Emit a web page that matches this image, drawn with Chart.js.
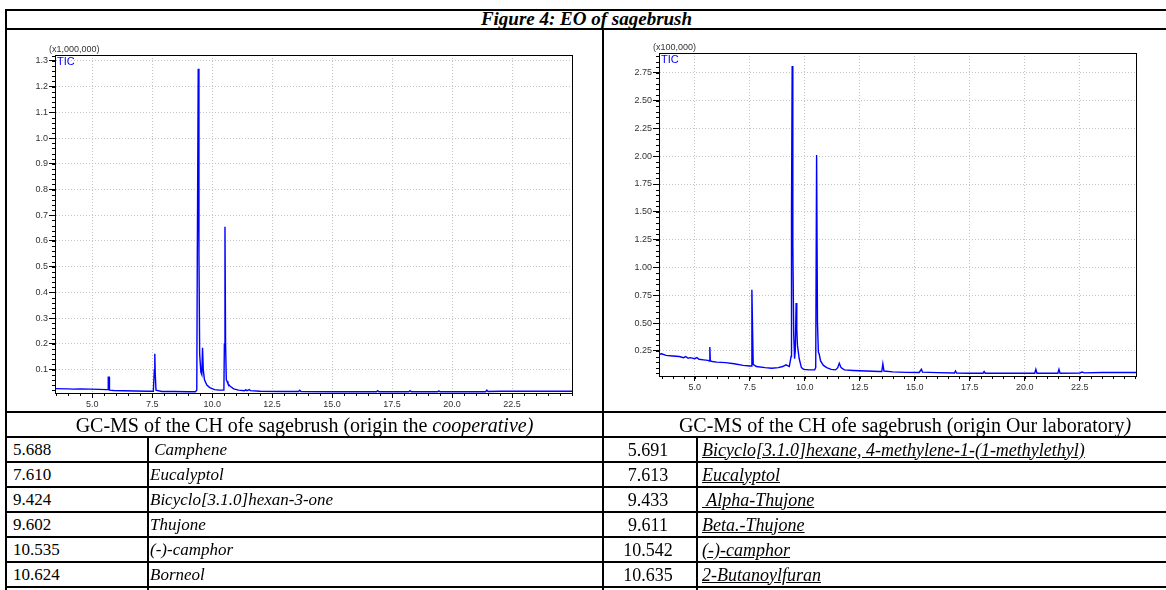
<!DOCTYPE html>
<html>
<head>
<meta charset="utf-8">
<script src="https://cdn.jsdelivr.net/npm/chart.js@4.4.0/dist/chart.umd.min.js"></script>
<style>
  body { margin: 0; width: 1166px; height: 590px; overflow: hidden; background: #fff; position: relative;
         font-family: "Liberation Serif", "Times New Roman", serif; color: #000; }
  .h { position: absolute; background: #000; height: 2px; }
  .v { position: absolute; background: #000; width: 2px; }
  .cell { position: absolute; display: flex; align-items: center; white-space: pre; line-height: 1; }
  canvas { position: absolute; top: 0; }
</style>
</head>
<body>
<div class="cell" style="left:7px;top:10px;width:1159px;height:17px;justify-content:center;font-weight:bold;font-style:italic;font-size:19px;">Figure 4: EO of sagebrush</div>
<canvas id="gc1" width="602" height="412" style="left:0"></canvas>
<canvas id="gc2" width="562" height="412" style="left:604px"></canvas>
<div id="tbl"></div>

<script>
// chromatogram 1 : cooperative sample (intensity x1,000,000)
const coopTime = [3.45, 4.0, 4.2, 4.5, 4.9, 5.3, 5.6, 5.66, 5.67, 5.71, 5.72, 5.9, 6.3, 6.8, 7.3, 7.55, 7.59, 7.61, 7.63, 7.66, 7.9, 8.4, 9.0, 9.3, 9.36, 9.38, 9.42, 9.45, 9.48, 9.53, 9.57, 9.6, 9.63, 9.68, 9.78, 9.9, 10.1, 10.3, 10.49, 10.51, 10.535, 10.56, 10.59, 10.62, 10.66, 10.75, 10.9, 11.1, 11.35, 11.4, 11.45, 11.55, 11.6, 12.0, 13.0, 13.6, 13.65, 13.7, 15.0, 16.85, 16.9, 16.95, 18.2, 18.25, 18.3, 19.4, 19.45, 19.5, 21.4, 21.45, 21.5, 22.0, 23.0, 25.0];
const coopTic  = [0.026, 0.025, 0.024, 0.025, 0.024, 0.023, 0.022, 0.022, 0.07, 0.07, 0.02, 0.019, 0.018, 0.017, 0.016, 0.016, 0.1, 0.162, 0.08, 0.02, 0.015, 0.015, 0.014, 0.014, 0.02, 0.5, 1.27, 0.55, 0.16, 0.09, 0.08, 0.185, 0.1, 0.06, 0.04, 0.03, 0.022, 0.02, 0.02, 0.2, 0.655, 0.2, 0.06, 0.055, 0.045, 0.035, 0.025, 0.02, 0.018, 0.022, 0.018, 0.022, 0.018, 0.016, 0.015, 0.015, 0.02, 0.015, 0.014, 0.014, 0.018, 0.014, 0.014, 0.018, 0.014, 0.014, 0.017, 0.014, 0.014, 0.02, 0.015, 0.016, 0.016, 0.016];

// chromatogram 2 : our laboratory sample (intensity x100,000)
const labTime = [3.4, 3.5, 3.7, 4.0, 4.3, 4.5, 4.6, 4.7, 4.8, 5.0, 5.1, 5.2, 5.4, 5.6, 5.67, 5.69, 5.71, 5.8, 6.0, 6.4, 6.8, 7.2, 7.5, 7.57, 7.6, 7.63, 7.66, 7.8, 8.2, 8.5, 8.8, 9.0, 9.15, 9.3, 9.38, 9.4, 9.43, 9.46, 9.5, 9.54, 9.57, 9.61, 9.64, 9.67, 9.75, 9.85, 9.95, 10.2, 10.45, 10.5, 10.54, 10.58, 10.62, 10.66, 10.72, 10.85, 11.0, 11.2, 11.4, 11.5, 11.57, 11.65, 11.8, 12.2, 12.8, 13.4, 13.5, 13.55, 13.6, 14.0, 14.6, 15.2, 15.3, 15.35, 16.0, 16.8, 16.85, 16.9, 17.5, 18.1, 18.15, 18.2, 19.0, 20.0, 20.45, 20.5, 20.55, 21.5, 21.55, 21.6, 22.5, 22.6, 22.7, 23.5, 24.5, 25.05];
const labTic  = [0.22, 0.225, 0.21, 0.205, 0.2, 0.19, 0.2, 0.185, 0.19, 0.18, 0.19, 0.175, 0.17, 0.165, 0.16, 0.286, 0.16, 0.155, 0.15, 0.145, 0.135, 0.12, 0.115, 0.115, 0.8, 0.45, 0.13, 0.11, 0.1, 0.095, 0.1, 0.11, 0.125, 0.11, 0.2, 1.5, 2.81, 1.2, 0.4, 0.18, 0.25, 0.68, 0.45, 0.3, 0.18, 0.1, 0.085, 0.08, 0.08, 0.1, 2.01, 0.5, 0.24, 0.22, 0.16, 0.12, 0.1, 0.085, 0.08, 0.1, 0.14, 0.1, 0.08, 0.075, 0.07, 0.065, 0.065, 0.135, 0.07, 0.062, 0.058, 0.057, 0.085, 0.06, 0.055, 0.052, 0.07, 0.052, 0.05, 0.05, 0.065, 0.05, 0.05, 0.05, 0.05, 0.085, 0.05, 0.05, 0.085, 0.05, 0.052, 0.06, 0.053, 0.057, 0.057, 0.057];

const timeTicks = [5.0, 7.5, 10.0, 12.5, 15.0, 17.5, 20.0, 22.5];
const coopTicks = [0.1, 0.2, 0.3, 0.4, 0.5, 0.6, 0.7, 0.8, 0.9, 1.0, 1.1, 1.2, 1.3];
const labTicks  = [0.25, 0.5, 0.75, 1.0, 1.25, 1.5, 1.75, 2.0, 2.25, 2.5, 2.75];

// identified compounds
const coopRT    = ["5.688", "7.610", "9.424", "9.602", "10.535", "10.624"];
const coopNames = [" Camphene", "Eucalyptol", "Bicyclo[3.1.0]hexan-3-one", "Thujone", "(-)-camphor", "Borneol"];
const labRT     = ["5.691", "7.613", "9.433", "9.611", "10.542", "10.635"];
const labNames  = ["Bicyclo[3.1.0]hexane, 4-methylene-1-(1-methylethyl)", "Eucalyptol", " Alpha-Thujone", "Beta.-Thujone", "(-)-camphor", "2-Butanoylfuran"];

const sans = '"Liberation Sans", Arial, sans-serif';

// frame, minor ticks and the TIC / multiplier labels
const chromPlugin = {
  id: "chrom",
  afterDraw(chart, args, o) {
    const { ctx, chartArea: a, scales: { x, y } } = chart;
    ctx.save();
    ctx.strokeStyle = "#000";
    ctx.lineWidth = 1;
    ctx.beginPath();
    for (let k = Math.ceil(x.min / 0.5); k * 0.5 <= x.max; k++) {
      const px = Math.round(x.getPixelForValue(k * 0.5)) + 0.5;
      ctx.moveTo(px, a.bottom);
      ctx.lineTo(px, a.bottom + 3);
    }
    for (let k = Math.ceil(y.min / o.yMinor); k * o.yMinor <= y.max; k++) {
      const py = Math.round(y.getPixelForValue(k * o.yMinor)) + 0.5;
      ctx.moveTo(a.left, py);
      ctx.lineTo(a.left - 3, py);
    }
    ctx.stroke();
    ctx.strokeRect(Math.round(a.left) + 0.5, Math.round(a.top) + 0.5,
                   Math.round(a.right - a.left), Math.round(a.bottom - a.top));
    ctx.textBaseline = "top";
    ctx.fillStyle = "#0000ff";
    ctx.font = "11px " + sans;
    ctx.fillText("TIC", a.left + 2, a.top + 1);
    ctx.fillStyle = "#333";
    ctx.font = "9px " + sans;
    ctx.textBaseline = "bottom";
    ctx.fillText(o.mult, a.left - 6, a.top - 1);
    ctx.restore();
  }
};

function drawGC(id, time, tic, yTicks, cfg) {
  new Chart(document.getElementById(id), {
    type: "line",
    data: {
      datasets: [{
        data: time.map((t, i) => ({ x: t, y: tic[i] })),
        borderColor: "#0000ff",
        borderWidth: 1.4,
        pointRadius: 0,
        tension: 0,
        fill: false
      }]
    },
    options: {
      responsive: false,
      animation: false,
      events: [],
      layout: { padding: { top: cfg.top, right: cfg.right, left: 0, bottom: 0 } },
      plugins: { legend: { display: false }, tooltip: { enabled: false }, chrom: { mult: cfg.mult, yMinor: cfg.yMinor } },
      scales: {
        x: {
          type: "linear",
          min: cfg.xMin, max: cfg.xMax,
          afterBuildTicks: s => { s.ticks = timeTicks.map(v => ({ value: v })); },
          afterFit: s => { s.height = cfg.xh; },
          ticks: { callback: v => v.toFixed(1), font: { family: sans, size: 9 }, color: "#333", padding: 1, maxRotation: 0 },
          grid: { color: "#c4c4c4", tickColor: "#000", tickLength: 5 },
          border: { color: "#000", dash: [1, 2] }
        },
        y: {
          type: "linear",
          min: cfg.yMin, max: cfg.yMax,
          afterBuildTicks: s => { s.ticks = yTicks.map(v => ({ value: v })); },
          afterFit: s => { s.width = cfg.yw; },
          ticks: { callback: v => v.toFixed(cfg.dec), font: { family: sans, size: 9 }, color: "#333", padding: 1 },
          grid: { color: "#c4c4c4", tickColor: "#000", tickLength: 6 },
          border: { color: "#000", dash: [1, 2] }
        }
      }
    },
    plugins: [chromPlugin]
  });
}

drawGC("gc1", coopTime, coopTic, coopTicks,
  { top: 55, right: 30, xh: 19, yw: 55, xMin: 3.45, xMax: 25.0, yMin: 0.009, yMax: 1.323, dec: 1, yMinor: 0.02, mult: "(x1,000,000)" });
drawGC("gc2", labTime, labTic, labTicks,
  { top: 53, right: 30, xh: 36, yw: 55, xMin: 3.38, xMax: 25.05, yMin: 0.025, yMax: 2.927, dec: 2, yMinor: 0.05, mult: "(x100,000)" });

// table around the charts
const tbl = document.getElementById("tbl");
function add(cls, style, html) {
  const d = document.createElement("div");
  d.className = cls;
  d.style.cssText = style;
  if (html !== undefined) d.innerHTML = html;
  tbl.appendChild(d);
}
add("h", "left:5px;top:9px;width:1161px;");
add("h", "left:5px;top:28px;width:1161px;");
add("v", "left:5px;top:9px;height:581px;");
add("v", "left:602px;top:28px;height:562px;");
add("h", "left:5px;top:411px;width:1161px;");
add("h", "left:5px;top:436px;width:1161px;");
add("cell", "left:7px;top:413px;width:595px;height:23px;justify-content:center;font-size:20px;",
  "GC-MS of the CH ofe sagebrush (origin the <i>cooperative)</i>");
add("cell", "left:604px;top:413px;width:602px;height:23px;justify-content:center;font-size:20px;",
  "GC-MS of the CH ofe sagebrush (origin Our laboratory<i>)</i>");
add("v", "left:147px;top:436px;height:154px;");
add("v", "left:696px;top:436px;height:154px;");
coopRT.forEach((rt, i) => {
  const top = 438 + i * 25;
  add("h", `left:5px;top:${top + 23}px;width:1161px;`);
  add("cell", `left:13px;top:${top}px;height:23px;font-size:17px;`, rt);
  add("cell", `left:150px;top:${top}px;height:23px;font-size:17px;font-style:italic;`, coopNames[i]);
  add("cell", `left:604px;top:${top}px;width:88px;height:23px;justify-content:center;font-size:18px;`, labRT[i]);
  add("cell", `left:702px;top:${top}px;height:23px;font-size:18px;font-style:italic;text-decoration:underline;`, labNames[i]);
});
</script>
</body>
</html>
